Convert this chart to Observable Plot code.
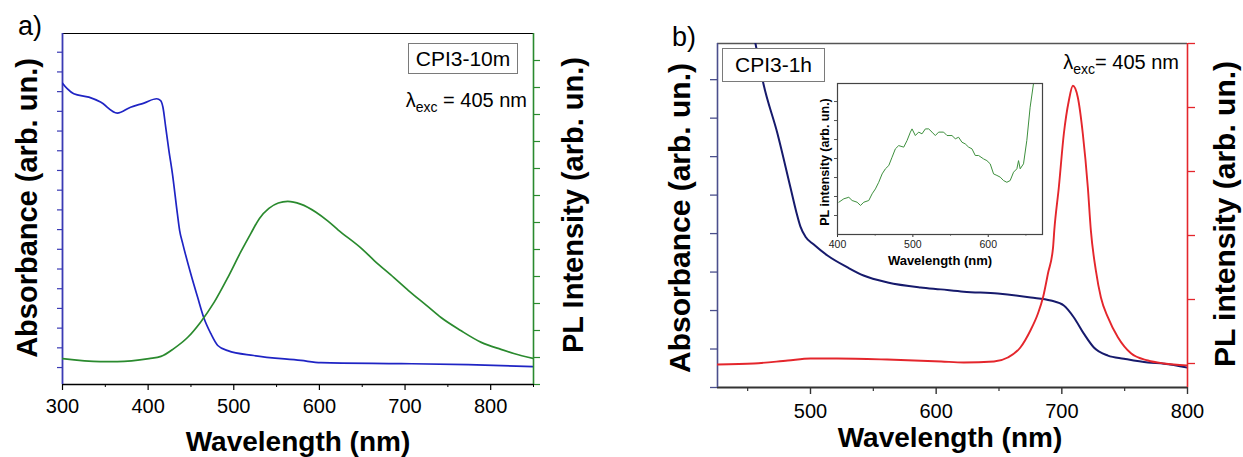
<!DOCTYPE html>
<html>
<head>
<meta charset="utf-8">
<script src="https://cdn.jsdelivr.net/npm/d3@7"></script>
<script src="https://cdn.jsdelivr.net/npm/@observablehq/plot@0.6"></script>
<style>
  html, body { margin: 0; padding: 0; background: #fff; }
  #root { position: relative; width: 1243px; height: 457px; overflow: hidden; background: #fff;
          font-family: "Liberation Sans", Arial, Helvetica, sans-serif; }
  #root svg { position: absolute; max-width: none; }
</style>
</head>
<body>
<div id="root"></div>
<script>
// ---------------- Panel a data ----------------
const aAbsWavelength = [300, 305.5, 313.2, 330.8, 344.4, 364, 379.5, 395.1, 410, 414.6, 417.3, 420.5, 424.3, 428.3, 434.1, 436.8, 440.4, 449.7, 457.9, 464.9, 473.1, 481.3, 493, 523.4, 578.4, 601.8, 695.3, 773.7, 850];
const aAbsorbance    = [1.443, 1.415, 1.389, 1.372, 1.347, 1.291, 1.321, 1.342, 1.364, 1.355, 1.321, 1.22, 1.10, 0.985, 0.782, 0.695, 0.629, 0.477, 0.355, 0.254, 0.173, 0.112, 0.086, 0.061, 0.036, 0.025, 0.020, 0.015, 0.005];
const aPLWavelength  = [300, 344, 364, 401, 415, 430, 446, 461, 477, 493, 508, 520, 530, 541, 552, 563, 578, 596, 610, 622, 649, 664, 687, 704, 725, 742, 765, 789, 812, 827, 850];
const aPLIntensity   = [0.96, 0.85, 0.85, 0.96, 1.04, 1.33, 1.74, 2.30, 3.04, 3.96, 4.90, 5.60, 6.15, 6.52, 6.72, 6.78, 6.68, 6.38, 6.05, 5.72, 5.04, 4.59, 3.96, 3.48, 2.93, 2.48, 2.00, 1.56, 1.30, 1.15, 0.96];
const aXDomain = [300, 850];
const aXMajorTicks = [300, 400, 500, 600, 700, 800];
const aXMinorTicks = [350, 450, 550, 650, 750, 850];
const aAbsDomain = [-0.086, 1.695];
const aAbsTicks = [0, 0.1, 0.2, 0.3, 0.4, 0.5, 0.6, 0.7, 0.8, 0.9, 1.0, 1.1, 1.2, 1.3, 1.4, 1.5, 1.6];
const aPLDomain = [0, 13];
const aPLTicks = [0, 1, 2, 3, 4, 5, 6, 7, 8, 9, 10, 11, 12];

// ---------------- Panel b data ----------------
const bAbsWavelength = [452, 456.2, 462.5, 473.7, 484.1, 488.8, 492, 496, 502.4, 513.5, 529.5, 542.2, 561.4, 587.6, 603.6, 621.9, 649, 675.3, 691.2, 701.6, 709.6, 717.5, 725.5, 736.7, 749.4, 768.5, 781.3, 800];
const bAbsorbance    = [0.96, 0.894, 0.790, 0.660, 0.519, 0.455, 0.418, 0.392, 0.372, 0.343, 0.312, 0.291, 0.273, 0.260, 0.255, 0.249, 0.244, 0.234, 0.226, 0.213, 0.182, 0.140, 0.104, 0.083, 0.075, 0.065, 0.062, 0.052];
const bPLWavelength  = [426, 455, 482, 500, 521, 561, 604, 622, 646, 657, 667, 675, 681, 685, 689, 693, 694, 697.6, 701.6, 705.6, 708.8, 712.7, 716.7, 720.7, 723.1, 727.1, 731.1, 736.7, 744.6, 755, 768.5, 781.3, 800];
const bPLIntensity   = [-0.016, 0, 0.047, 0.078, 0.078, 0.062, 0.031, 0.016, 0.031, 0.094, 0.25, 0.516, 0.781, 1.03, 1.41, 1.81, 2.08, 2.75, 3.59, 4.11, 4.34, 4.16, 3.59, 2.75, 2.08, 1.45, 1.03, 0.72, 0.41, 0.16, 0.047, 0, -0.03];
const bXDomain = [426, 800];
const bXMajorTicks = [500, 600, 700, 800];
const bXMinorTicks = [450, 550, 650, 750];
const bAbsDomain = [0, 0.894];
const bAbsTicks = [0, 0.1, 0.2, 0.3, 0.4, 0.5, 0.6, 0.7, 0.8];
const bPLDomain = [-0.375, 5];
const bPLTicks = [0, 1, 2, 3, 4, 5];

// ---------------- Inset data ----------------
const insetWavelength = [401.8, 408.4, 415, 419.4, 426, 430.5, 434.9, 441.5, 445.9, 450.3, 454.7, 459.2, 463.6, 468, 472.4, 476.8, 481.2, 487.9, 492.3, 496.7, 498.9, 503.3, 507.7, 512.1, 516.6, 521, 525.4, 529.8, 534.2, 540.8, 545.3, 551.9, 556.3, 560.7, 565.1, 569.5, 574, 578.4, 582.8, 587.2, 593.8, 598.2, 602.6, 607.1, 611.5, 615.9, 620.3, 624.7, 629.1, 633.6, 638, 640.2, 642.4, 646.8, 651.2, 655.6, 660, 663];
const insetPL = [1.70, 1.88, 1.96, 1.79, 1.70, 1.53, 1.70, 1.79, 2.14, 2.40, 2.75, 3.19, 3.46, 3.63, 4.07, 4.51, 4.68, 4.60, 4.95, 5.39, 5.56, 5.21, 5.39, 5.30, 5.56, 5.56, 5.39, 5.21, 5.39, 5.39, 5.21, 5.21, 5.04, 5.12, 4.86, 4.77, 4.60, 4.51, 4.16, 4.16, 3.98, 3.89, 3.72, 3.19, 3.11, 3.02, 2.84, 2.75, 2.84, 3.28, 3.46, 3.89, 3.46, 3.72, 4.95, 6.70, 7.93, 8.6];
const insetXDomain = [400, 672];
const insetXMajorTicks = [400, 500, 600];
const insetXMinorTicks = [450, 550, 650];
const insetYDomain = [0, 7.95];
const insetYTicks = [1, 2, 3, 4, 5, 6, 7];

// ---------------- Styling ----------------
const FONT = '"Liberation Sans", Arial, Helvetica, sans-serif';
const A_BLUE = "#1f24c4";
const A_BLUE_AXIS = "#3a3ab4";
const A_GREEN = "#2a8a2e";
const B_NAVY = "#161a6c";
const B_NAVY_AXIS = "#4b4f8c";
const B_RED = "#e4262c";
const INSET_GREEN = "#3d8f3d";

const root = document.getElementById("root");
const rows = (xs, ys) => xs.map((x, i) => ({x, y: ys[i]}));
const style = (fs) => ({fontFamily: FONT, fontSize: fs + "px", background: "transparent", overflow: "visible", color: "#000"});
const noText = () => "";

function place(svg, left, top) {
  svg.style.position = "absolute";
  svg.style.left = left + "px";
  svg.style.top = top + "px";
  root.appendChild(svg);
}
function txt(html, {left, baseline, size, weight = 400, anchor = "start", color = "#000"}) {
  const d = document.createElement("div");
  d.innerHTML = html;
  Object.assign(d.style, {position: "absolute", left: left + "px", top: (baseline - 0.8465 * size) + "px",
    fontSize: size + "px", fontWeight: weight, lineHeight: "1", whiteSpace: "nowrap", color});
  if (anchor === "middle") d.style.transform = "translateX(-50%)";
  if (anchor === "end") d.style.transform = "translateX(-100%)";
  root.appendChild(d);
}
function vtxt(html, {cx, cy, size, weight = 700}) {
  const d = document.createElement("div");
  d.innerHTML = html;
  Object.assign(d.style, {position: "absolute", left: cx + "px", top: cy + "px", fontSize: size + "px",
    fontWeight: weight, lineHeight: "1", whiteSpace: "nowrap", transform: "translate(-50%,-50%) rotate(-90deg)"});
  root.appendChild(d);
}
function box(text, {left, top, width, height, size}) {
  const d = document.createElement("div");
  d.textContent = text;
  Object.assign(d.style, {position: "absolute", left: left + "px", top: top + "px", width: width + "px", height: height + "px",
    boxSizing: "border-box", border: "1px solid #7a7a7a", background: "#fff", fontSize: size + "px",
    lineHeight: (height - 2) + "px", textAlign: "center", whiteSpace: "nowrap"});
  root.appendChild(d);
}

// ---------------- Panel a ----------------
const a1 = Plot.plot({
  width: 620, height: 457, marginLeft: 62, marginRight: 87, marginTop: 33, marginBottom: 73,
  x: {domain: aXDomain}, y: {domain: aAbsDomain},
  style: style(20),
  marks: [
    Plot.axisX({ticks: aXMajorTicks, tickSize: 6, tickPadding: 8, label: null, stroke: "#000", fill: "#000", strokeWidth: 1.2}),
    Plot.axisX({ticks: aXMinorTicks, tickSize: 3, tickFormat: noText, label: null, stroke: "#000"}),
    Plot.axisY({ticks: aAbsTicks, tickSize: 5, tickFormat: noText, label: null, stroke: A_BLUE_AXIS, strokeWidth: 1.2}),
    Plot.ruleY([aAbsDomain[0]], {stroke: "#000", strokeWidth: 1.6}),
    Plot.ruleY([aAbsDomain[1]], {stroke: "#000", strokeWidth: 1.2}),
    Plot.ruleX([aXDomain[0]], {stroke: A_BLUE_AXIS, strokeWidth: 1.8}),
    Plot.line(rows(aAbsWavelength, aAbsorbance), {x: "x", y: "y", stroke: A_BLUE, strokeWidth: 1.7, curve: "monotone-x", clip: true})
  ]
});
place(a1, 0, 0);

const a2 = Plot.plot({
  width: 620, height: 457, marginLeft: 62, marginRight: 87, marginTop: 33, marginBottom: 73,
  x: {domain: aXDomain, axis: null}, y: {domain: aPLDomain},
  style: style(20),
  marks: [
    Plot.axisY({anchor: "right", ticks: aPLTicks, tickSize: 6, tickFormat: noText, label: null, stroke: A_GREEN, strokeWidth: 1.2}),
    Plot.ruleX([aXDomain[1]], {stroke: A_GREEN, strokeWidth: 1.6}),
    Plot.line(rows(aPLWavelength, aPLIntensity), {x: "x", y: "y", stroke: A_GREEN, strokeWidth: 1.7, curve: "monotone-x", clip: true})
  ]
});
place(a2, 0, 0);

txt("a)", {left: 18, baseline: 36, size: 27});
vtxt("Absorbance (arb. un.)", {cx: 27, cy: 208, size: 29});
vtxt("PL Intensity (arb. un.)", {cx: 573, cy: 205, size: 29});
txt("Wavelength (nm)", {left: 298, baseline: 452, size: 28, weight: 700, anchor: "middle"});
box("CPI3-10m", {left: 408, top: 43, width: 110, height: 31, size: 21});
txt('λ<span style="font-size:14px;position:relative;top:5px">exc</span> = 405 nm', {left: 527, baseline: 107, size: 20, anchor: "end"});

// ---------------- Panel b ----------------
const b1 = Plot.plot({
  width: 623, height: 457, marginLeft: 97, marginRight: 56, marginTop: 43, marginBottom: 70,
  x: {domain: bXDomain}, y: {domain: bAbsDomain},
  style: style(20),
  marks: [
    Plot.axisX({ticks: bXMajorTicks, tickSize: 7, tickPadding: 9, label: null, stroke: "#333", fill: "#000", strokeWidth: 1.4}),
    Plot.axisX({ticks: bXMinorTicks, tickSize: 4, tickFormat: noText, label: null, stroke: "#333", strokeWidth: 1.2}),
    Plot.axisY({ticks: bAbsTicks, tickSize: 7, tickFormat: noText, label: null, stroke: B_NAVY_AXIS, strokeWidth: 1.3}),
    Plot.ruleY([bAbsDomain[0]], {stroke: "#333", strokeWidth: 1.8}),
    Plot.ruleY([bAbsDomain[1]], {stroke: "#555", strokeWidth: 1.4}),
    Plot.ruleX([bXDomain[0]], {stroke: B_NAVY_AXIS, strokeWidth: 1.6}),
    Plot.line(rows(bAbsWavelength, bAbsorbance), {x: "x", y: "y", stroke: B_NAVY, strokeWidth: 2, curve: "monotone-x", clip: true})
  ]
});
place(b1, 620, 0);

const b2 = Plot.plot({
  width: 623, height: 457, marginLeft: 97, marginRight: 56, marginTop: 43, marginBottom: 70,
  x: {domain: bXDomain, axis: null}, y: {domain: bPLDomain},
  style: style(20),
  marks: [
    Plot.axisY({anchor: "right", ticks: bPLTicks, tickSize: 7, tickFormat: noText, label: null, stroke: B_RED, strokeWidth: 1.3}),
    Plot.ruleX([bXDomain[1]], {stroke: B_RED, strokeWidth: 1.6}),
    Plot.line(rows(bPLWavelength, bPLIntensity), {x: "x", y: "y", stroke: B_RED, strokeWidth: 1.9, curve: "monotone-x", clip: true})
  ]
});
place(b2, 620, 0);

// Inset
const inset = Plot.plot({
  width: 270, height: 200, marginLeft: 47, marginRight: 18, marginTop: 13, marginBottom: 36,
  x: {domain: insetXDomain}, y: {domain: insetYDomain},
  style: style(10.5),
  marks: [
    Plot.frame({fill: "#fff", stroke: null}),
    Plot.axisX({ticks: insetXMajorTicks, tickSize: 3, tickPadding: 3, label: null, stroke: "#333", fill: "#222"}),
    Plot.axisX({ticks: insetXMinorTicks, tickSize: 2, tickFormat: noText, label: null, stroke: "#999"}),
    Plot.axisY({ticks: insetYTicks, tickSize: 3, tickFormat: noText, label: null, stroke: "#555"}),
    Plot.line(rows(insetWavelength, insetPL), {x: "x", y: "y", stroke: INSET_GREEN, strokeWidth: 1, clip: true}),
    Plot.frame({stroke: "#444", strokeWidth: 1.2})
  ]
});
place(inset, 790, 70);

txt("b)", {left: 672, baseline: 47, size: 27});
vtxt("Absorbance (arb. un.)", {cx: 680, cy: 218, size: 30});
vtxt("PL intensity (arb. un.)", {cx: 1225, cy: 214, size: 30});
txt("Wavelength (nm)", {left: 950, baseline: 448, size: 28, weight: 700, anchor: "middle"});
box("CPI3-1h", {left: 722, top: 48, width: 103, height: 34, size: 21});
txt('λ<span style="font-size:14px;position:relative;top:5px">exc</span>= 405 nm', {left: 1179, baseline: 69, size: 20, anchor: "end"});
vtxt("PL intensity (arb. un.)", {cx: 825, cy: 162, size: 12.5});
txt("Wavelength (nm)", {left: 940, baseline: 265, size: 13, weight: 700, anchor: "middle"});
</script>
</body>
</html>
